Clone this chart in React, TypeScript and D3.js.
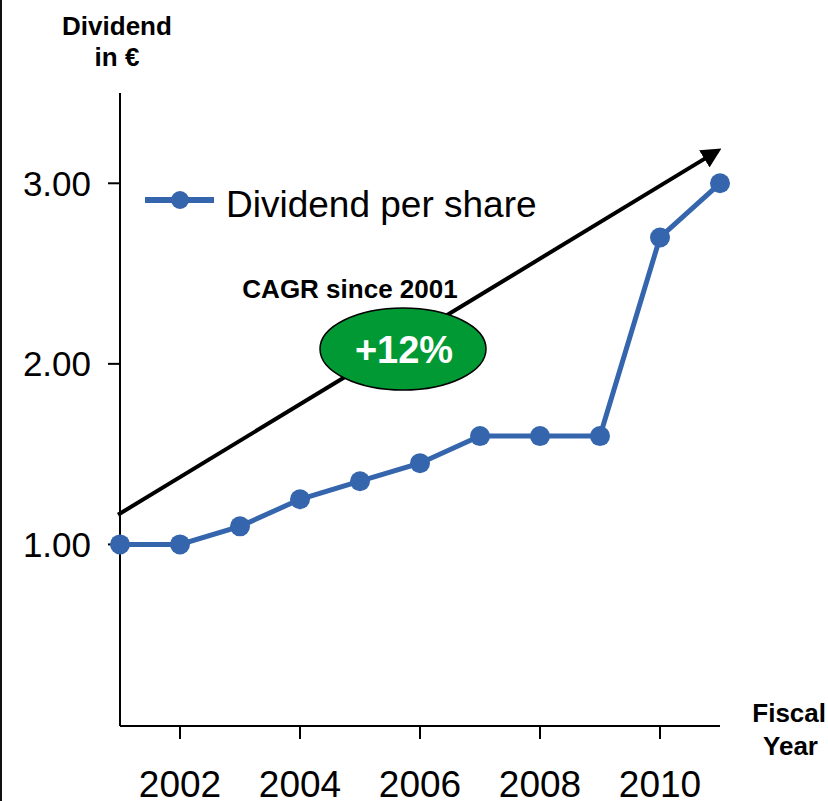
import React from "react";
import * as d3 from "d3";

const years = [2001, 2002, 2003, 2004, 2005, 2006, 2007, 2008, 2009, 2010, 2011];
const dividends = [1.0, 1.0, 1.1, 1.25, 1.35, 1.45, 1.6, 1.6, 1.6, 2.7, 3.0];
const xTickYears = [2002, 2004, 2006, 2008, 2010];
const yTickValues = [1, 2, 3];
const trendStart = { year: 2001, value: 1.17 };
const trendEnd = { year: 2011, value: 3.17 };

const W = 828;
const H = 801;
const FONT = "'Liberation Sans', Arial, Helvetica, sans-serif";
const BLUE = "#3465ad";

export default function App() {
  const x = d3.scaleLinear().domain([2001, 2011]).range([120, 720]);
  const y = d3.scaleLinear().domain([0, 3.5]).range([725, 93]);
  const line = d3
    .line<number>()
    .x((_, i) => x(years[i]))
    .y((d) => y(d));

  const axisY = 726;

  return (
    <svg
      width={W}
      height={H}
      style={{ position: "absolute", left: 0, top: 0, background: "#fff" }}
      fontFamily={FONT}
    >
      <defs>
        <marker
          id="arrow"
          viewBox="0 0 10 10"
          refX="8"
          refY="5"
          markerWidth="5"
          markerHeight="5"
          orient="auto"
          markerUnits="strokeWidth"
        >
          <path d="M0,0 L10,5 L0,10 z" fill="#000" />
        </marker>
      </defs>
      <rect x={0} y={0} width={W} height={H} fill="#fff" />
      <line x1={1} y1={0} x2={1} y2={H} stroke="#111" strokeWidth={2} />

      {/* axes */}
      <line x1={120} y1={93} x2={120} y2={axisY} stroke="#000" strokeWidth={2} />
      <line x1={120} y1={axisY} x2={720} y2={axisY} stroke="#000" strokeWidth={2} />
      {yTickValues.map((v) => (
        <g key={v}>
          <line x1={108} x2={120} y1={y(v)} y2={y(v)} stroke="#000" strokeWidth={2} />
          <text x={91} y={y(v) + 12.5} fontSize={35} textAnchor="end" fill="#000">
            {v.toFixed(2)}
          </text>
        </g>
      ))}
      {xTickYears.map((yr) => (
        <g key={yr}>
          <line x1={x(yr)} x2={x(yr)} y1={axisY} y2={axisY + 13} stroke="#000" strokeWidth={2} />
          <text x={x(yr)} y={797} fontSize={37} textAnchor="middle" fill="#000">
            {yr}
          </text>
        </g>
      ))}

      {/* axis titles */}
      <text x={117} y={35} fontSize={26} fontWeight="bold" textAnchor="middle">
        Dividend
      </text>
      <text x={117} y={66} fontSize={26} fontWeight="bold" textAnchor="middle">
        in €
      </text>
      <text x={826} y={722} fontSize={26} fontWeight="bold" textAnchor="end">
        Fiscal
      </text>
      <text x={818} y={755} fontSize={26} fontWeight="bold" textAnchor="end">
        Year
      </text>

      {/* trend arrow */}
      <line
        x1={x(trendStart.year) - 2}
        y1={y(trendStart.value) + 1}
        x2={x(trendEnd.year) - 2}
        y2={y(trendEnd.value) - 2}
        stroke="#000"
        strokeWidth={4}
        markerEnd="url(#arrow)"
      />

      {/* series */}
      <path d={line(dividends) || ""} fill="none" stroke={BLUE} strokeWidth={5} />
      {dividends.map((d, i) => (
        <circle key={i} cx={x(years[i])} cy={y(d)} r={10} fill={BLUE} />
      ))}

      {/* legend */}
      <line x1={145} x2={214} y1={200} y2={200} stroke={BLUE} strokeWidth={6} />
      <circle cx={180} cy={200} r={9} fill={BLUE} />
      <text x={226} y={217} fontSize={37} fill="#000">
        Dividend per share
      </text>

      {/* CAGR annotation */}
      <text x={350} y={298} fontSize={26} fontWeight="bold" textAnchor="middle">
        CAGR since 2001
      </text>
      <ellipse cx={403} cy={349} rx={83} ry={41} fill="#009933" stroke="#000" strokeWidth={1.5} />
      <text x={404} y={363} fontSize={38} fontWeight="bold" fill="#fff" textAnchor="middle">
        +12%
      </text>
    </svg>
  );
}
